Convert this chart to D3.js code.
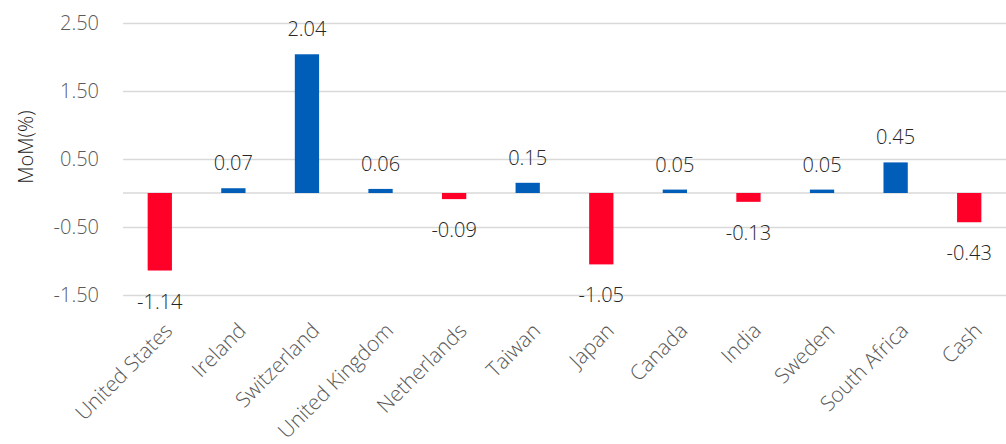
<!DOCTYPE html>
<html><head><meta charset="utf-8">
<script src="https://cdn.jsdelivr.net/npm/d3@7"></script>
<style>
html,body{margin:0;padding:0;background:#fff;}
svg{display:block;}
</style></head>
<body>
<div id="chart"></div>
<script>
const categories = ["United States","Ireland","Switzerland","United Kingdom","Netherlands","Taiwan","Japan","Canada","India","Sweden","South Africa","Cash"];
const values = [-1.14, 0.07, 2.04, 0.06, -0.09, 0.15, -1.05, 0.05, -0.13, 0.05, 0.45, -0.43];
const tickValues = [-1.5, -0.5, 0.5, 1.5, 2.5];
const tickLabels = ["-1.50", "-0.50", "0.50", "1.50", "2.50"];
const yTitle = "MoM(%)";

const W = 1006, H = 444;
const svg = d3.select("#chart").append("svg").attr("width", W).attr("height", H);

const x = d3.scaleBand().domain(categories).range([123, 1006]).paddingInner(0.67).paddingOuter(0.335);
const y = d3.scaleLinear().domain([-1.5, 2.5]).range([295, 23]);

// gridlines
const grid = svg.append("g")
  .attr("transform", "translate(123,0)")
  .call(d3.axisLeft(y).tickValues(tickValues).tickSize(-(1006 - 123)).tickFormat(""));
grid.select(".domain").remove();
grid.selectAll(".tick line").attr("stroke", "#d9d9d9").attr("stroke-width", 1.5);

// tick labels
const yAxis = svg.append("g").attr("transform", "translate(99,0)")
  .call(d3.axisLeft(y).tickValues(tickValues).tickSize(0).tickPadding(0)
    .tickFormat((d, i) => tickLabels[i]));
yAxis.select(".domain").remove();
yAxis.selectAll("text").attr("font-family", "'Open Sans', sans-serif").attr("font-weight", 300)
  .attr("font-size", 20).attr("fill", "#595959");

// zero line
svg.append("line").attr("x1", 123).attr("x2", 1006).attr("y1", y(0)).attr("y2", y(0))
  .attr("stroke", "#d9d9d9").attr("stroke-width", 1.5);

// bars
svg.append("g").selectAll("rect").data(values).join("rect")
  .attr("x", (d, i) => x(categories[i]))
  .attr("width", x.bandwidth())
  .attr("y", d => d >= 0 ? y(d) : y(0))
  .attr("height", d => Math.abs(y(d) - y(0)))
  .attr("fill", d => d >= 0 ? "#005EB8" : "#FF0029");

// data labels
svg.append("g").selectAll("text").data(values).join("text")
  .attr("x", (d, i) => x(categories[i]) + x.bandwidth() / 2)
  .attr("y", d => d >= 0 ? y(d) - 18 : y(d) + 38)
  .attr("text-anchor", "middle")
  .attr("font-family", "'Open Sans', sans-serif").attr("font-weight", 300)
  .attr("font-size", 20).attr("fill", "#262626")
  .text(d => d.toFixed(2));

// category labels
const xAxis = svg.append("g").attr("transform", "translate(0,332)")
  .call(d3.axisBottom(x).tickSize(0).tickPadding(0));
xAxis.select(".domain").remove();
xAxis.selectAll("text")
  .attr("font-family", "'Open Sans', sans-serif").attr("font-weight", 300)
  .attr("font-size", 21).attr("fill", "#595959")
  .attr("text-anchor", "end").attr("dy", 0).attr("y", 0)
  .attr("transform", "translate(14,0) rotate(-45)");

// y title
svg.append("text")
  .attr("transform", "translate(33,147) rotate(-90)")
  .attr("text-anchor", "middle")
  .attr("font-family", "'Open Sans', sans-serif").attr("font-weight", 300)
  .attr("font-size", 20).attr("fill", "#1a1a1a")
  .text(yTitle);
</script>
</body></html>
